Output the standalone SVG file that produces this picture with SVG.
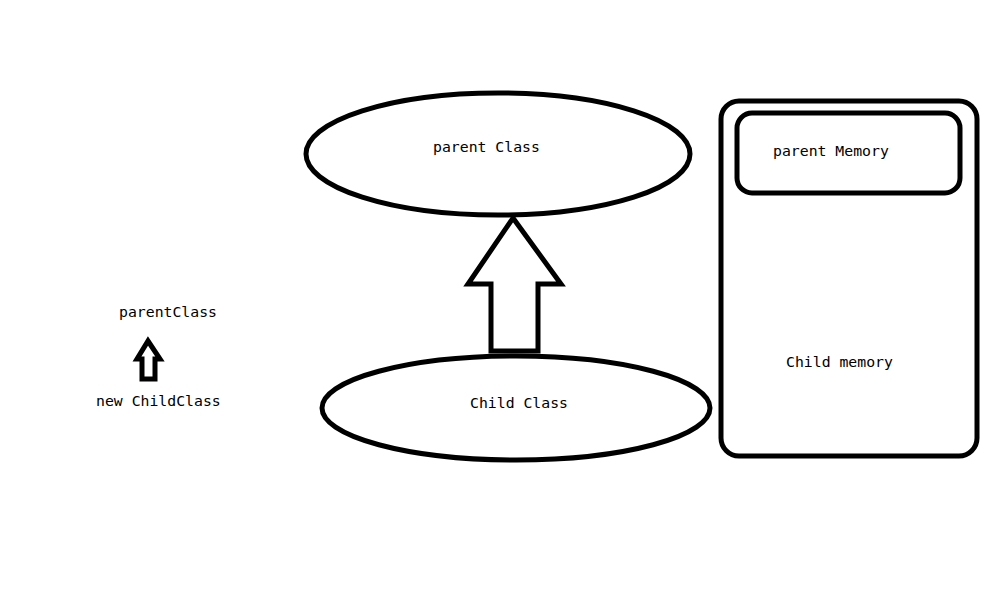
<svg xmlns="http://www.w3.org/2000/svg" width="1000" height="600" viewBox="0 0 1000 600">
<style>
.s{fill:none;stroke:#000;stroke-width:5;stroke-linejoin:miter}
.t{font-family:"DejaVu Sans Mono","Liberation Mono",monospace;font-size:14.8px;fill:#000}
</style>
<rect width="1000" height="600" fill="#fff"/>
<g id="parentClassNode"><ellipse class="s" cx="498" cy="154" rx="192" ry="61"/><text class="t" x="433" y="152">parent Class</text></g>
<g id="childClassNode"><ellipse class="s" cx="516" cy="408" rx="194" ry="52"/><text class="t" x="470" y="408">Child Class</text></g>
<g id="childMemory"><rect class="s" x="721" y="101" width="256" height="355" rx="18"/><text class="t" x="786" y="367">Child memory</text></g>
<g id="parentMemory"><rect class="s" x="737" y="113" width="223" height="80" rx="15"/><text class="t" x="773" y="156">parent Memory</text></g>
<g id="labelParent"><text class="t" x="119" y="317">parentClass</text></g>
<g id="labelChild"><text class="t" x="96" y="406">new ChildClass</text></g>
<g id="connectors">
<polygon class="s" points="513,218 561,284 538,284 538,351 491,351 491,284 468,284"/>
<polygon class="s" stroke-width="4" points="148,341 160,359 155,359 155,379 142,379 142,359 137,359"/>
</g>
</svg>
